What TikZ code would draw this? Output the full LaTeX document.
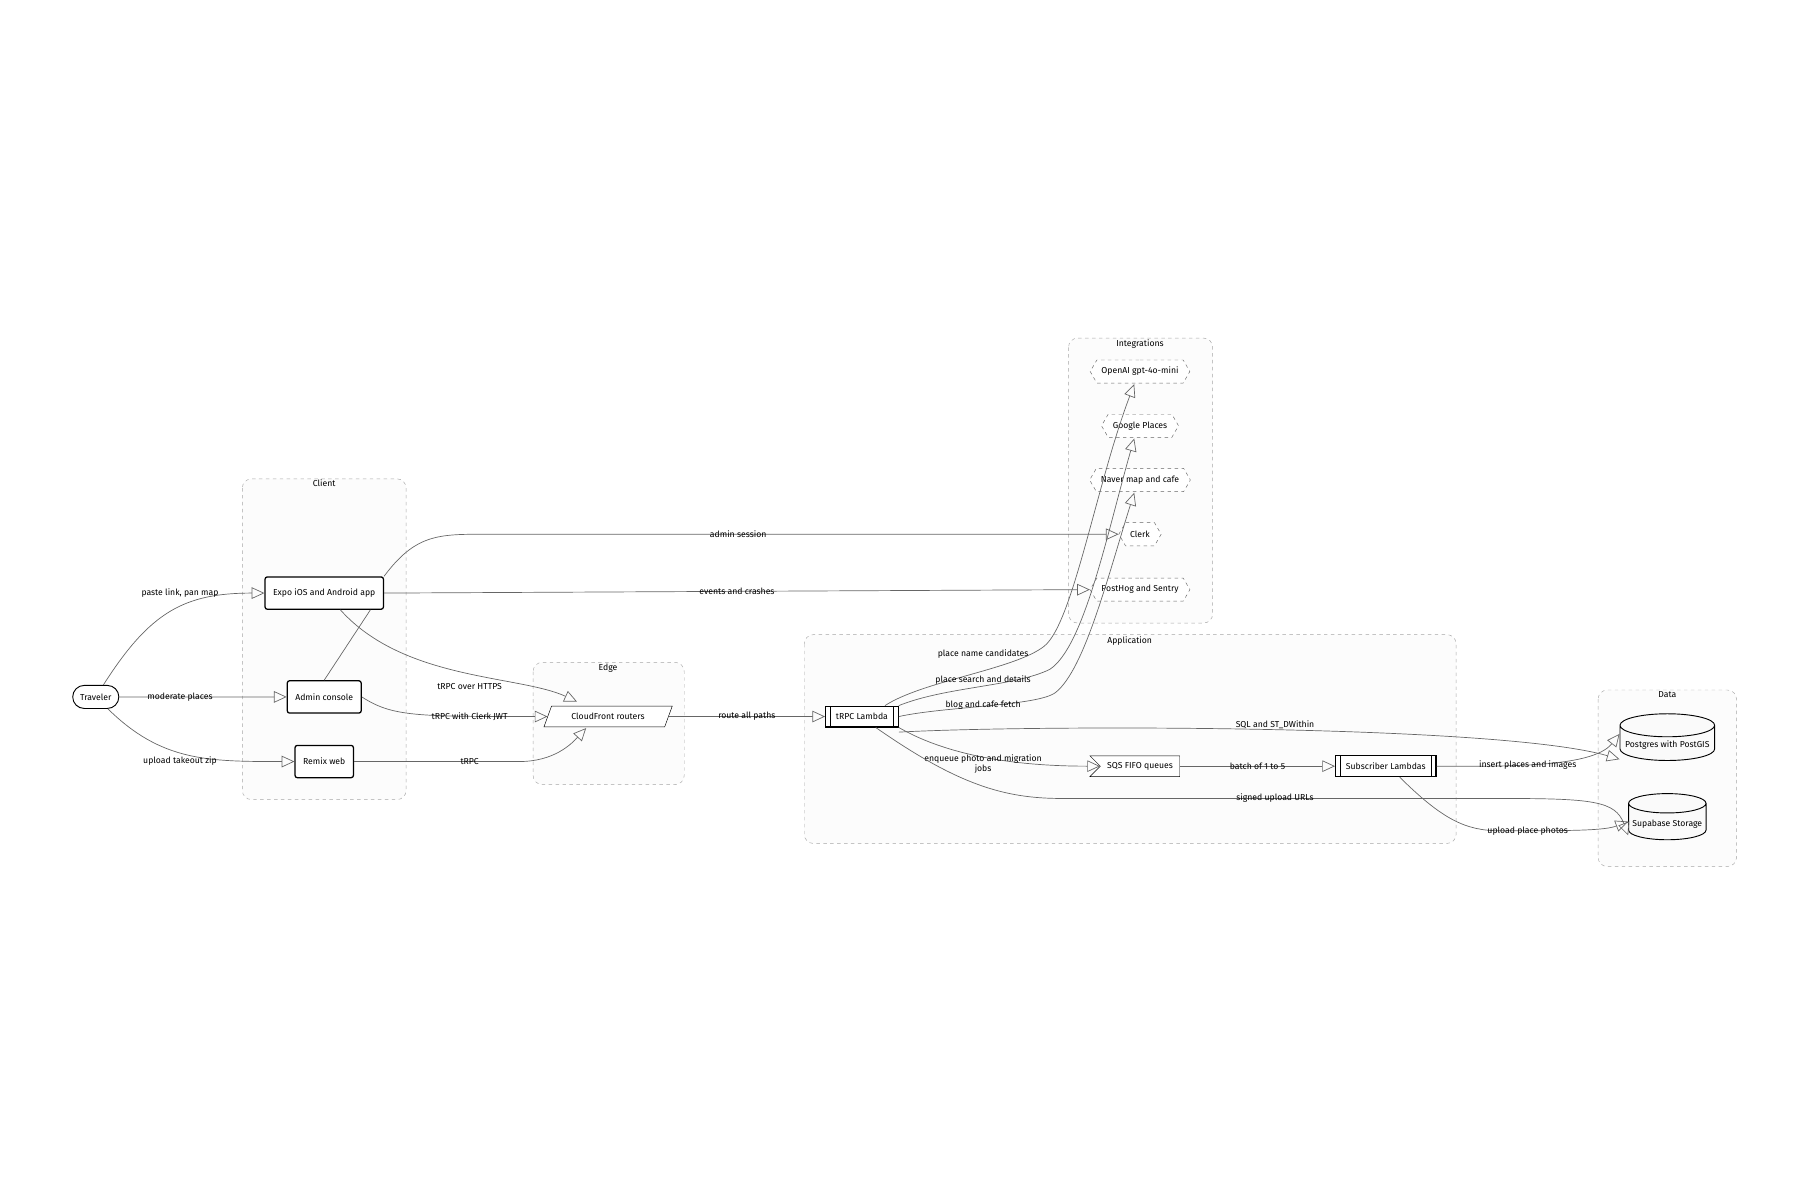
\documentclass[tikz,border=0pt]{standalone}
\usepackage{fontspec}
\setmainfont{Fira Sans}
\usetikzlibrary{arrows.meta,shapes.geometric,shapes.symbols,shapes.misc}
\begin{document}
\begin{tikzpicture}[x=1pt,y=-1pt,font=\fontsize{7.5}{9}\selectfont,
 grp/.style={draw=black!35,dashed,rounded corners=8pt,fill=black!1},
 gt/.style={anchor=north,inner sep=1pt},
 box/.style={draw,line width=1.1pt,rounded corners=2pt,fill=white,minimum height=28pt,inner xsep=7pt},
 sub/.style={draw,line width=1pt,fill=white,minimum height=18pt,inner xsep=9pt,
   path picture={\draw[line width=1pt] ([xshift=4pt]path picture bounding box.north west)--([xshift=4pt]path picture bounding box.south west);
     \draw[line width=1pt] ([xshift=-4pt]path picture bounding box.north east)--([xshift=-4pt]path picture bounding box.south east);}},
 ext/.style={draw=black!60,dashed,signal,signal to=east and west,signal pointer angle=120,fill=white,minimum height=20pt,inner xsep=4pt},
 db/.style={draw,cylinder,shape border rotate=90,aspect=0.25,fill=black!2,line width=0.8pt,minimum height=40pt},
 e/.style={draw=black!60,line width=0.6pt,-{Triangle[length=11pt,width=10pt,fill=black!18,open]}},
 l/.style={fill=none,inner sep=1pt}]
\useasboundingbox (0,0) rectangle (1560,1040);
% groups
\draw[grp] (210,415) rectangle (352,693); \node[gt] at (281,415) {Client};
\draw[grp] (462,574) rectangle (593,680); \node[gt] at (527,574) {Edge};
\draw[grp] (697,550) rectangle (1262,731); \node[gt] at (979,551) {Application};
\draw[grp] (926,293) rectangle (1051,540); \node[gt] at (988,293) {Integrations};
\draw[grp] (1385,598) rectangle (1505,751); \node[gt] at (1445,598) {Data};
% nodes
\node[draw,rounded rectangle,line width=0.8pt,fill=white,minimum height=20pt,inner xsep=6pt] (trav) at (83,604) {Traveler};
\node[box] (expo) at (281,514) {Expo iOS and Android app};
\node[box] (adm) at (281,604) {Admin console};
\node[box] (remix) at (281,660) {Remix web};
\node[draw,trapezium,trapezium left angle=70,trapezium right angle=110,fill=white,minimum height=18pt,inner xsep=2pt] (cf) at (527,621) {CloudFront routers};
\node[sub] (lam) at (747,621) {tRPC Lambda};
\node[draw,signal,signal to=nowhere,signal from=west,fill=white,minimum height=18pt,inner xsep=6pt] (sqs) at (988,664) {SQS FIFO queues};
\node[sub] (subl) at (1201,664) {Subscriber Lambdas};
\node[ext] (oai) at (988,322) {OpenAI gpt-4o-mini};
\node[ext] (goo) at (988,369) {Google Places};
\node[ext] (nav) at (988,416) {Naver map and cafe};
\node[ext] (clk) at (988,463) {Clerk};
\node[ext] (ph) at (988,511) {PostHog and Sentry};
\node[db,minimum width=82pt] (pg) at (1445,646) {Postgres with PostGIS};
\node[db,minimum width=66pt] (sb) at (1445,714) {Supabase Storage};
% edges
\draw[e] (trav) .. controls (130,530) and (160,514) .. (expo.west) node[l] at (156,514){paste link, pan map};
\draw[e] (trav) -- (adm) node[l] at (156,604){moderate places};
\draw[e] (trav) .. controls (140,660) and (180,660) .. (remix.west) node[l] at (156,660){upload takeout zip};
\draw[e] (adm.north) -- ([xshift=40pt]expo.south) (expo.north east) .. controls (360,463) and (380,463) .. (420,463) -- node[l,pos=0.4]{admin session} (clk.west);
\draw[e] (expo.east) -- node[l]{events and crashes} (ph.west);
\draw[e] ([xshift=14pt]expo.south) .. controls (350,590) and (450,585) .. (500,608) node[l] at (407,595){tRPC over HTTPS};
\draw[e] (adm.east) .. controls (340,621) and (360,621) .. (cf.west) node[l] at (407,621){tRPC with Clerk JWT};
\draw[e] (remix.east) -- (450,660) .. controls (480,660) and (495,645) .. (508,631) node[l] at (407,660){tRPC};
\draw[e] (cf.east) -- node[l]{route all paths} (lam.west);
\draw[e] ([xshift=20pt]lam.north) .. controls (800,590) and (880,580) .. (905,560) .. controls (930,540) and (950,420) .. (983,333) node[l] at (852,567){place name candidates};
\draw[e] (lam.north east) .. controls (820,595) and (880,595) .. (910,580) .. controls (940,560) and (960,460) .. (983,380) node[l] at (852,589){place search and details};
\draw[e] (lam.east) .. controls (820,612) and (900,612) .. (915,600) .. controls (940,580) and (960,500) .. (983,427) node[l] at (852,611){blog and cafe fetch};
\draw[e] ([yshift=-4pt]lam.south east) .. controls (900,628) and (1300,628) .. ([yshift=-12pt]pg.west) node[l] at (1105,628){SQL and ST\_DWithin};
\draw[e] (lam.south east) .. controls (830,660) and (900,664) .. (sqs.west) node[l,align=center] at (852,662){enqueue photo and migration\\ jobs};
\draw[e] ([xshift=12pt]lam.south) .. controls (830,680) and (870,692) .. (920,692) -- (1300,692) .. controls (1380,692) and (1400,694) .. ([yshift=-10pt]sb.west) node[l] at (1105,692){signed upload URLs};
\draw[e] (sqs.east) -- node[l]{batch of 1 to 5} (subl.west);
\draw[e] (subl.east) .. controls (1300,664) and (1380,666) .. ([yshift=10pt]pg.west) node[l] at (1324,663){insert places and images};
\draw[e] ([xshift=12pt]subl.south) .. controls (1250,710) and (1270,720) .. (1300,720) .. controls (1360,720) and (1390,720) .. ([yshift=2pt]sb.west) node[l] at (1324,720){upload place photos};
\end{tikzpicture}
\end{document}
